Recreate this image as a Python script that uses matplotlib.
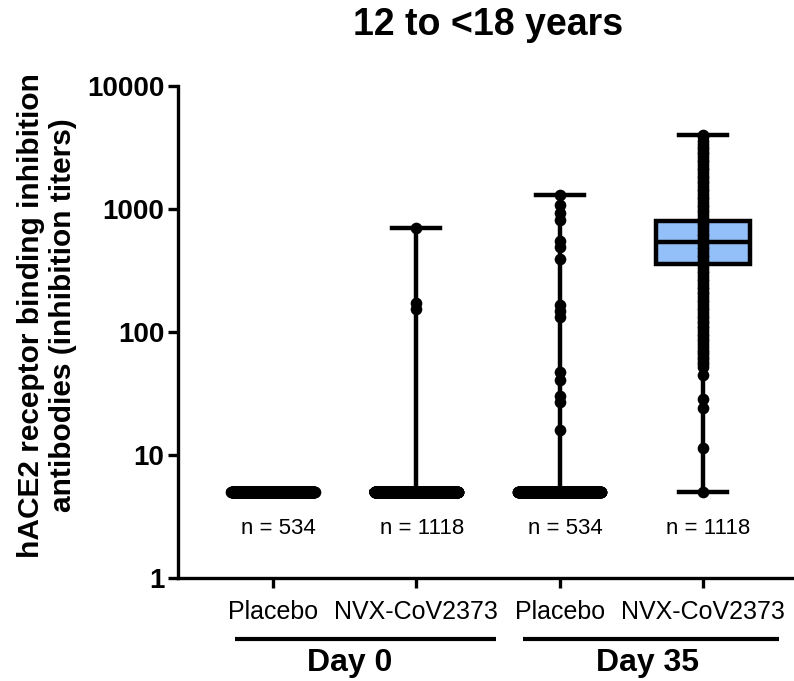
import numpy as np
import matplotlib.pyplot as plt

plt.rcParams["font.family"] = ["Liberation Sans", "DejaVu Sans"]

groups = ["Placebo", "NVX-CoV2373", "Placebo", "NVX-CoV2373"]
n_labels = ["n = 534", "n = 1118", "n = 534", "n = 1118"]
days = ["Day 0", "Day 35"]

# box and whisker stats
q1 = [5, 5, 5, 357]
median = [5, 5, 5, 536]
q3 = [5, 5, 5, 804]
whisk_lo = [5, 5, 5, 5]
whisk_hi = [5, 705, 1300, 4000]

# titers sitting at the lower limit (5), per group
floor_value = 5
floor_counts = [534, 1115, 519, 1]

# visible points above the floor
points_g1 = []
points_g2 = [705, 171, 154]
points_g3 = [1300, 1080, 935, 815, 550, 495, 390, 166, 147, 132,
             47, 41, 30, 27, 16]
points_g4 = [4000, 3850, 3600, 3400, 3200, 3070, 2900, 2780, 2640, 2520,
             2400, 2280, 2170, 2070, 1960, 1870, 1780, 1700, 1620, 1540,
             1460, 1390, 1320, 1260, 1200, 1140, 1080, 1030, 980, 940,
             890, 850, 810, 770, 735, 700, 665, 630, 600, 570,
             545, 520, 495, 470, 447, 425, 405, 385, 367, 350,
             332, 315, 300, 285, 271, 258, 246, 234, 223, 212,
             202, 192, 183, 174, 166, 158, 150, 143, 136, 130,
             124, 118, 112, 107, 102, 97, 92, 88, 84, 80,
             76, 72, 69, 66, 63, 60, 57, 55, 52, 45, 28.5, 24, 11.3]
points = [points_g1, points_g2, points_g3, points_g4]

box_color = "#93c0f8"
lw = 3.2
msize = 8.4

fig = plt.figure(figsize=(7.94, 6.81), dpi=100)
ax = fig.add_axes([0.2242, 0.1512, 0.7758, 0.7225])

pos = np.arange(1, len(groups) + 1)
stats = []
for i in range(len(groups)):
    stats.append({"med": median[i], "q1": q1[i], "q3": q3[i],
                  "whislo": whisk_lo[i], "whishi": whisk_hi[i], "fliers": []})

ax.bxp(stats, positions=pos, widths=0.656, capwidths=0.335, patch_artist=True,
       showfliers=False,
       boxprops=dict(facecolor=box_color, edgecolor="black", linewidth=lw),
       medianprops=dict(color="black", linewidth=lw),
       whiskerprops=dict(color="black", linewidth=lw),
       capprops=dict(color="black", linewidth=lw))

for i, p in enumerate(pos):
    k = floor_counts[i]
    if k > 1:
        xs = p + np.linspace(-0.29, 0.29, k)
    else:
        xs = np.array([p])
    ax.plot(xs, np.full(k, floor_value), "o", color="black", markersize=msize,
            markeredgewidth=0, zorder=5)
    vals = points[i]
    if vals:
        ax.plot(np.full(len(vals), p), vals, "o", color="black", markersize=msize,
                markeredgewidth=0, zorder=5)

ax.set_yscale("log")
ax.set_ylim(1, 10000)
ax.set_xlim(0.337, 4.636)
ax.set_yticks([1, 10, 100, 1000, 10000])
ax.set_yticklabels(["1", "10", "100", "1000", "10000"])
ax.minorticks_off()
ax.set_xticks(pos)
ax.set_xticklabels(groups, fontsize=18)

for s in ["top", "right"]:
    ax.spines[s].set_visible(False)
for s in ["left", "bottom"]:
    ax.spines[s].set_linewidth(2.4)

ax.tick_params(axis="y", labelsize=20, width=2.4, length=7, pad=3)
ax.tick_params(axis="x", width=2.4, length=7, pad=9)
for lbl in ax.get_yticklabels():
    lbl.set_fontweight("bold")

for i, p in enumerate(pos):
    ax.text(p + 0.04, 2.55, n_labels[i], ha="center", va="center", fontsize=16)

# group brackets under the tick labels
tr = ax.get_xaxis_transform()
ax.plot([0.735, 2.556], [-0.124, -0.124], color="black", lw=3, transform=tr,
        clip_on=False, solid_capstyle="butt")
ax.plot([2.745, 4.531], [-0.124, -0.124], color="black", lw=3, transform=tr,
        clip_on=False, solid_capstyle="butt")
ax.text(1.537, -0.173, days[0], transform=tr, ha="center", va="center",
        fontsize=23, fontweight="bold")
ax.text(3.617, -0.173, days[1], transform=tr, ha="center", va="center",
        fontsize=23, fontweight="bold")

fig.text(0.615, 0.963, "12 to <18 years", ha="center", va="center",
         fontsize=27, fontweight="bold")
fig.text(0.059, 0.537, "hACE2 receptor binding inhibition\nantibodies (inhibition titers)",
         rotation=90, ha="center", va="center", fontsize=21.5, fontweight="bold",
         multialignment="center")

fig.savefig("out.png", dpi=100)
